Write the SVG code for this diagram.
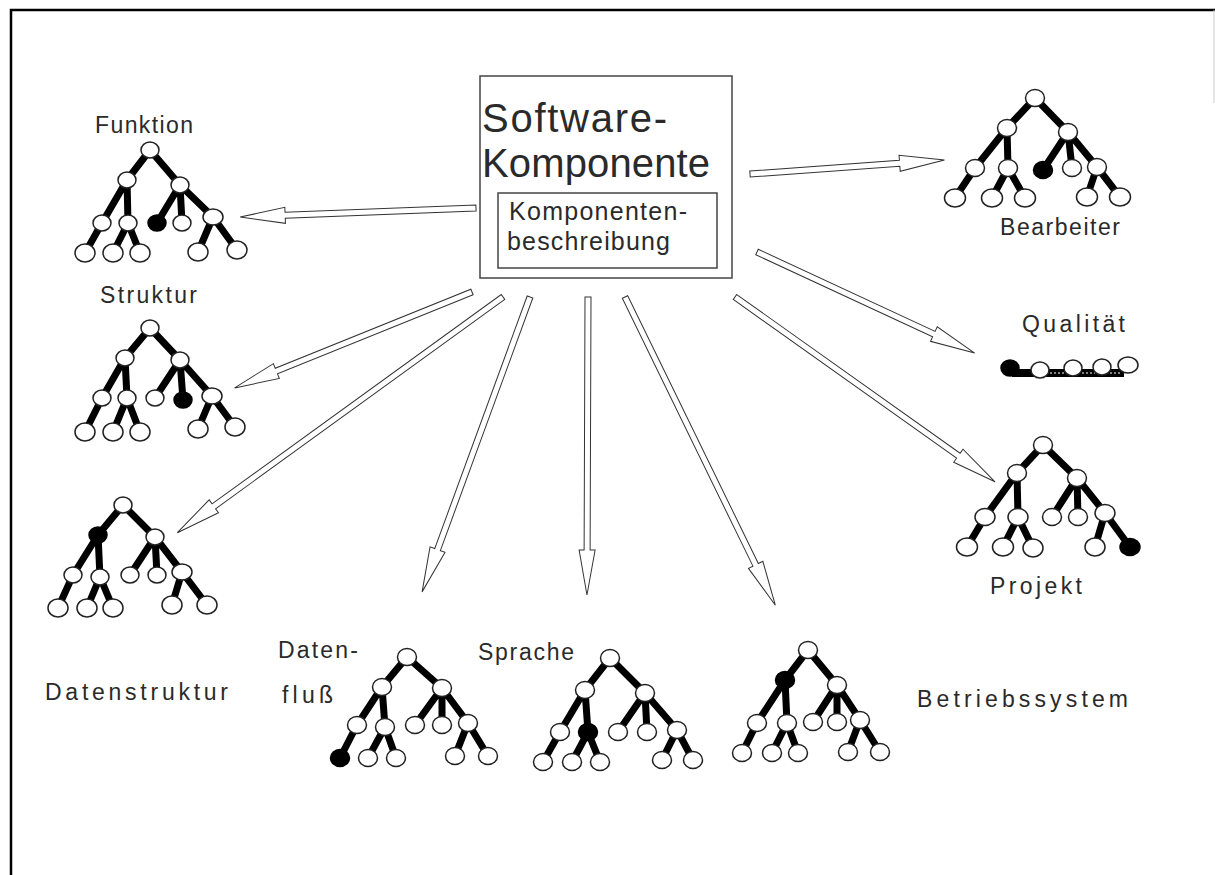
<svg xmlns="http://www.w3.org/2000/svg" width="1215" height="875" viewBox="0 0 1215 875">
<style>
.t{font-family:"Liberation Sans",Arial,sans-serif;fill:#2a2a2a;}
.lab{font-size:23px;}
.e{fill:none;stroke:#000;stroke-width:7;stroke-linecap:round;}
.n{fill:#fff;stroke:#222;stroke-width:1.5;}
.b{fill:#000;stroke:#000;stroke-width:1.5;}
.arr{fill:#fff;stroke:#333;stroke-width:1;stroke-linejoin:miter;}
.box{fill:#fff;stroke:#444;stroke-width:1.5;}
</style>
<rect x="0" y="0" width="1215" height="875" fill="#fff"/>
<g id="frame">
<path d="M11 875V10H1215" fill="none" stroke="#000" stroke-width="2.5"/>
<path d="M1214 10V103" fill="none" stroke="#ccc" stroke-width="1"/>
</g>

<g id="connectors">
<path class="arr" transform="translate(476,208) rotate(177.8)" d="M0 -3L191 -3L191 -8L236 0L191 8L191 3L0 3Z"/>
<path class="arr" transform="translate(472,292) rotate(158)" d="M0 -3L211 -3L211 -8L256 0L211 8L211 3L0 3Z"/>
<path class="arr" transform="translate(503,297) rotate(144.1)" d="M0 -3L357 -3L357 -8L402 0L357 8L357 3L0 3Z"/>
<path class="arr" transform="translate(530,297) rotate(110.1)" d="M0 -3L269 -3L269 -8L314 0L269 8L269 3L0 3Z"/>
<path class="arr" transform="translate(588,297) rotate(90.2)" d="M0 -3L253 -3L253 -8L298 0L253 8L253 3L0 3Z"/>
<path class="arr" transform="translate(625,297) rotate(64)" d="M0 -3L298 -3L298 -8L343 0L298 8L298 3L0 3Z"/>
<path class="arr" transform="translate(735,297) rotate(35.4)" d="M0 -3L274 -3L274 -8L319 0L274 8L274 3L0 3Z"/>
<path class="arr" transform="translate(757,252) rotate(24.9)" d="M0 -3L195 -3L195 -8L240 0L195 8L195 3L0 3Z"/>
<path class="arr" transform="translate(750,174) rotate(-4.1)" d="M0 -3L150 -3L150 -8L195 0L150 8L150 3L0 3Z"/>
</g>

<g id="software-komponente">
<rect class="box" x="480" y="76" width="252" height="202"/>
<text class="t" x="482" y="132" font-size="40" textLength="185" lengthAdjust="spacing">Software-</text>
<text class="t" x="482" y="177" font-size="40" textLength="228" lengthAdjust="spacing">Komponente</text>
<rect class="box" x="498" y="193" width="219" height="75"/>
<text class="t" x="509" y="220" font-size="25" textLength="178" lengthAdjust="spacing">Komponenten-</text>
<text class="t" x="507" y="250" font-size="25" textLength="163" lengthAdjust="spacing">beschreibung</text>
</g>

<g id="funktion">
<text class="t lab" x="95" y="133" textLength="98" lengthAdjust="spacing">Funktion</text>
<path class="e" d="M150 150L127 180M150 150L180 185M127 180L102 223M127 180L128 223M180 185L157 223M180 185L182 223M180 185L213 217M102 223L85 253M128 223L113 253M128 223L140 253M213 217L198 252M213 217L237 250"/>
<ellipse class="n" cx="150" cy="150" rx="9" ry="8"/><ellipse class="n" cx="127" cy="180" rx="9" ry="8"/><ellipse class="n" cx="180" cy="185" rx="9" ry="8"/>
<ellipse class="n" cx="102" cy="223" rx="9" ry="8"/><ellipse class="n" cx="128" cy="223" rx="9" ry="8"/><ellipse class="b" cx="157" cy="223" rx="9" ry="8"/><ellipse class="n" cx="182" cy="223" rx="9" ry="8"/><ellipse class="n" cx="213" cy="217" rx="10" ry="8"/>
<ellipse class="n" cx="85" cy="253" rx="10" ry="9"/><ellipse class="n" cx="113" cy="253" rx="10" ry="9"/><ellipse class="n" cx="140" cy="253" rx="10" ry="9"/><ellipse class="n" cx="198" cy="252" rx="10" ry="9"/><ellipse class="n" cx="237" cy="250" rx="10" ry="9"/>
</g>

<g id="bearbeiter">
<text class="t lab" x="1000" y="235" textLength="120" lengthAdjust="spacing">Bearbeiter</text>
<path class="e" d="M1035 98L1007 128M1035 98L1068 132M1007 128L975 168M1007 128L1008 168M1068 132L1043 170M1068 132L1072 168M1068 132L1097 167M975 168L955 198M1008 168L992 198M1008 168L1025 198M1097 167L1087 197M1097 167L1120 197"/>
<ellipse class="n" cx="1035" cy="98" rx="9.5" ry="8.5"/><ellipse class="n" cx="1007" cy="128" rx="9.5" ry="8.5"/><ellipse class="n" cx="1068" cy="132" rx="9.5" ry="8.5"/>
<ellipse class="n" cx="975" cy="168" rx="9.5" ry="8.5"/><ellipse class="n" cx="1008" cy="168" rx="9.5" ry="8.5"/><ellipse class="b" cx="1043" cy="170" rx="9.5" ry="8.5"/><ellipse class="n" cx="1072" cy="168" rx="9.5" ry="8.5"/><ellipse class="n" cx="1097" cy="167" rx="9.5" ry="8.5"/>
<ellipse class="n" cx="955" cy="198" rx="10.5" ry="9"/><ellipse class="n" cx="992" cy="198" rx="10.5" ry="9"/><ellipse class="n" cx="1025" cy="198" rx="10.5" ry="9"/><ellipse class="n" cx="1087" cy="197" rx="10.5" ry="9"/><ellipse class="n" cx="1120" cy="197" rx="10.5" ry="9"/>
</g>

<g id="struktur">
<text class="t lab" x="100" y="303" textLength="97" lengthAdjust="spacing">Struktur</text>
<path class="e" d="M150 328L125 358M150 328L180 360M125 358L102 398M125 358L127 398M180 360L155 398M180 360L183 400M180 360L212 396M102 398L85 432M127 398L113 432M127 398L140 432M212 396L198 429M212 396L235 427"/>
<ellipse class="n" cx="150" cy="328" rx="9" ry="8"/><ellipse class="n" cx="125" cy="358" rx="9" ry="8"/><ellipse class="n" cx="180" cy="360" rx="9" ry="8"/>
<ellipse class="n" cx="102" cy="398" rx="9" ry="8"/><ellipse class="n" cx="127" cy="398" rx="9" ry="8"/><ellipse class="n" cx="155" cy="398" rx="9" ry="8"/><ellipse class="b" cx="183" cy="400" rx="9" ry="8"/><ellipse class="n" cx="212" cy="396" rx="10" ry="8"/>
<ellipse class="n" cx="85" cy="432" rx="10" ry="9"/><ellipse class="n" cx="113" cy="432" rx="10" ry="9"/><ellipse class="n" cx="140" cy="432" rx="10" ry="9"/><ellipse class="n" cx="198" cy="429" rx="10" ry="9"/><ellipse class="n" cx="235" cy="427" rx="10" ry="9"/>
</g>

<g id="datenstruktur">
<text class="t lab" x="45" y="700" textLength="183" lengthAdjust="spacing">Datenstruktur</text>
<path class="e" d="M123 505L98 535M123 505L155 537M98 535L73 575M98 535L100 577M155 537L130 575M155 537L157 575M155 537L182 572M73 575L58 608M100 577L87 608M100 577L113 608M182 572L172 605M182 572L207 605"/>
<ellipse class="n" cx="123" cy="505" rx="9" ry="8"/><ellipse class="b" cx="98" cy="535" rx="9" ry="8"/><ellipse class="n" cx="155" cy="537" rx="9" ry="8"/>
<ellipse class="n" cx="73" cy="575" rx="9" ry="8"/><ellipse class="n" cx="100" cy="577" rx="9" ry="8"/><ellipse class="n" cx="130" cy="575" rx="9" ry="8"/><ellipse class="n" cx="157" cy="575" rx="9" ry="8"/><ellipse class="n" cx="182" cy="572" rx="10" ry="8"/>
<ellipse class="n" cx="58" cy="608" rx="10" ry="9"/><ellipse class="n" cx="87" cy="608" rx="10" ry="9"/><ellipse class="n" cx="113" cy="608" rx="10" ry="9"/><ellipse class="n" cx="172" cy="605" rx="10" ry="9"/><ellipse class="n" cx="207" cy="605" rx="10" ry="9"/>
</g>

<g id="qualitaet">
<text class="t lab" x="1022" y="332" textLength="103" lengthAdjust="spacing">Qualität</text>
<path d="M1012 373H1124" stroke="#000" stroke-width="8" fill="none"/>
<path d="M1050 373H1064M1082 373H1095M1110 373H1120" stroke="#fff" stroke-width="1" stroke-dasharray="2 2" fill="none"/>
<ellipse class="b" cx="1010" cy="368" rx="9" ry="8"/><ellipse class="n" cx="1040" cy="370" rx="9" ry="8"/><ellipse class="n" cx="1073" cy="368" rx="9" ry="8"/><ellipse class="n" cx="1102" cy="367" rx="9" ry="8"/><ellipse class="n" cx="1128" cy="365" rx="10" ry="8"/>
</g>

<g id="projekt">
<text class="t lab" x="990" y="594" textLength="92" lengthAdjust="spacing">Projekt</text>
<path class="e" d="M1043 445L1017 473M1043 445L1077 478M1017 473L985 517M1017 473L1018 517M1077 478L1052 517M1077 478L1078 517M1077 478L1105 513M985 517L967 547M1018 517L1003 547M1018 517L1033 548M1105 513L1095 547M1105 513L1130 547"/>
<ellipse class="n" cx="1043" cy="445" rx="9.5" ry="8.5"/><ellipse class="n" cx="1017" cy="473" rx="9.5" ry="8.5"/><ellipse class="n" cx="1077" cy="478" rx="9.5" ry="8.5"/>
<ellipse class="n" cx="985" cy="517" rx="10" ry="8.5"/><ellipse class="n" cx="1018" cy="517" rx="10" ry="8.5"/><ellipse class="n" cx="1052" cy="517" rx="9.5" ry="8.5"/><ellipse class="n" cx="1078" cy="517" rx="9.5" ry="8.5"/><ellipse class="n" cx="1105" cy="513" rx="10" ry="8.5"/>
<ellipse class="n" cx="967" cy="547" rx="10.5" ry="9"/><ellipse class="n" cx="1003" cy="547" rx="10.5" ry="9"/><ellipse class="n" cx="1033" cy="548" rx="10" ry="9"/><ellipse class="n" cx="1095" cy="547" rx="10" ry="9"/><ellipse class="b" cx="1130" cy="547" rx="10" ry="8.5"/>
</g>

<g id="datenfluss">
<text class="t lab" x="278" y="658" textLength="80" lengthAdjust="spacing">Daten-</text>
<text class="t lab" x="282" y="703" textLength="51" lengthAdjust="spacing">fluß</text>
<path class="e" d="M407 657L382 687M407 657L442 688M382 687L357 725M382 687L385 727M442 688L415 725M442 688L442 725M442 688L468 723M357 725L340 758M385 727L368 758M385 727L396 758M468 723L455 756M468 723L488 756"/>
<ellipse class="n" cx="407" cy="657" rx="9.5" ry="8.5"/><ellipse class="n" cx="382" cy="687" rx="9.5" ry="8.5"/><ellipse class="n" cx="442" cy="688" rx="9.5" ry="8.5"/>
<ellipse class="n" cx="357" cy="725" rx="9.5" ry="8.5"/><ellipse class="n" cx="385" cy="727" rx="9.5" ry="8.5"/><ellipse class="n" cx="415" cy="725" rx="9.5" ry="8.5"/><ellipse class="n" cx="442" cy="725" rx="9.5" ry="8.5"/><ellipse class="n" cx="468" cy="723" rx="9.5" ry="8.5"/>
<ellipse class="b" cx="340" cy="758" rx="9.5" ry="8.5"/><ellipse class="n" cx="368" cy="758" rx="9.5" ry="8.5"/><ellipse class="n" cx="396" cy="758" rx="9.5" ry="8.5"/><ellipse class="n" cx="455" cy="756" rx="9.5" ry="8.5"/><ellipse class="n" cx="488" cy="756" rx="9.5" ry="8.5"/>
</g>

<g id="sprache">
<text class="t lab" x="478" y="660" textLength="96" lengthAdjust="spacing">Sprache</text>
<path class="e" d="M610 658L585 690M610 658L645 693M585 690L560 732M585 690L588 732M645 693L618 732M645 693L647 732M645 693L677 730M560 732L543 762M588 732L572 762M588 732L600 762M677 730L662 760M677 730L693 760"/>
<ellipse class="n" cx="610" cy="658" rx="9.5" ry="8.5"/><ellipse class="n" cx="585" cy="690" rx="9.5" ry="8.5"/><ellipse class="n" cx="645" cy="693" rx="9.5" ry="8.5"/>
<ellipse class="n" cx="560" cy="732" rx="9.5" ry="8.5"/><ellipse class="b" cx="588" cy="732" rx="9.5" ry="8.5"/><ellipse class="n" cx="618" cy="732" rx="9.5" ry="8.5"/><ellipse class="n" cx="647" cy="732" rx="9.5" ry="8.5"/><ellipse class="n" cx="677" cy="730" rx="9.5" ry="8.5"/>
<ellipse class="n" cx="543" cy="762" rx="9.5" ry="8.5"/><ellipse class="n" cx="572" cy="762" rx="9.5" ry="8.5"/><ellipse class="n" cx="600" cy="762" rx="9.5" ry="8.5"/><ellipse class="n" cx="662" cy="760" rx="9.5" ry="8.5"/><ellipse class="n" cx="693" cy="760" rx="9.5" ry="8.5"/>
</g>

<g id="betriebssystem">
<text class="t lab" x="917" y="707" textLength="211" lengthAdjust="spacing">Betriebssystem</text>
<path class="e" d="M808 650L785 680M808 650L837 685M785 680L757 723M785 680L787 723M837 685L813 722M837 685L837 722M837 685L860 720M757 723L742 753M787 723L772 753M787 723L798 753M860 720L848 752M860 720L880 752"/>
<ellipse class="n" cx="808" cy="650" rx="9.5" ry="8.5"/><ellipse class="b" cx="785" cy="680" rx="9.5" ry="8.5"/><ellipse class="n" cx="837" cy="685" rx="9.5" ry="8.5"/>
<ellipse class="n" cx="757" cy="723" rx="9.5" ry="8.5"/><ellipse class="n" cx="787" cy="723" rx="9.5" ry="8.5"/><ellipse class="n" cx="813" cy="722" rx="9.5" ry="8.5"/><ellipse class="n" cx="837" cy="722" rx="9.5" ry="8.5"/><ellipse class="n" cx="860" cy="720" rx="9.5" ry="8.5"/>
<ellipse class="n" cx="742" cy="753" rx="9.5" ry="8.5"/><ellipse class="n" cx="772" cy="753" rx="9.5" ry="8.5"/><ellipse class="n" cx="798" cy="753" rx="9.5" ry="8.5"/><ellipse class="n" cx="848" cy="752" rx="9.5" ry="8.5"/><ellipse class="n" cx="880" cy="752" rx="9.5" ry="8.5"/>
</g>
</svg>
